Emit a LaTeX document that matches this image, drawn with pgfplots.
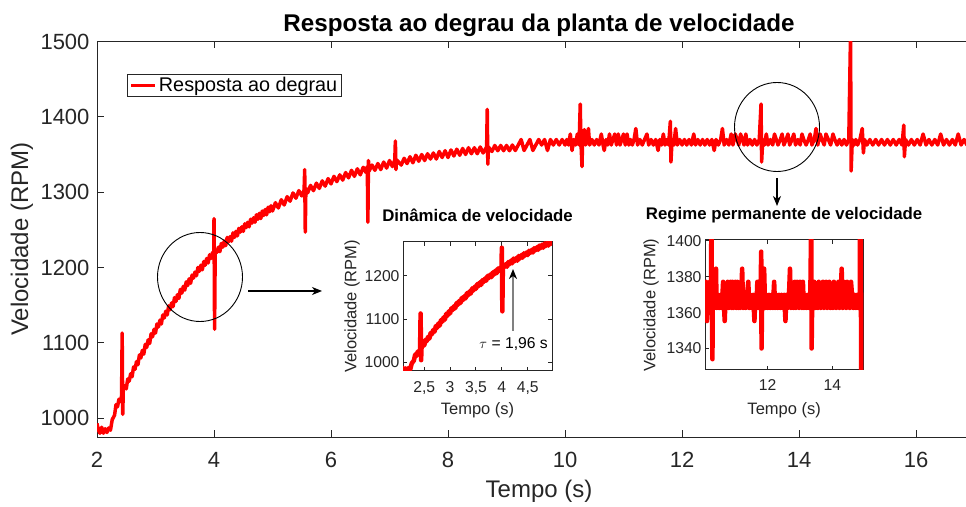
\documentclass[border=0pt]{standalone}
\usepackage{fontspec}
\setmainfont{Liberation Sans}
\usepackage{pgfplots}
\pgfplotsset{compat=1.18}
\usepackage{pgfplotstable}
\usetikzlibrary{arrows.meta}
\definecolor{axgray}{RGB}{38,38,38}
\definecolor{sigred}{RGB}{255,0,0}

% velocidade medida (RPM) x tempo (s)
\pgfplotstableread{
t v
2.00 993
2.02 985
2.05 980
2.08 988
2.11 980
2.14 986
2.17 981
2.20 987
2.23 984
2.26 998
2.300 1004
2.325 1018
2.350 1015
2.375 1025
2.400 1022
2.420 1030
2.430 1113
2.440 1005
2.450 1040
2.475 1043
2.500 1039
2.525 1052
2.550 1049
2.575 1059
2.600 1055
2.625 1068
2.650 1065
2.675 1075
2.700 1071
2.725 1084
2.750 1080
2.775 1090
2.800 1085
2.825 1098
2.850 1094
2.875 1104
2.900 1099
2.925 1112
2.950 1108
2.975 1118
3.000 1113
3.025 1125
3.050 1121
3.075 1130
3.100 1125
3.125 1137
3.150 1133
3.175 1142
3.200 1137
3.225 1149
3.250 1144
3.275 1153
3.300 1148
3.325 1160
3.350 1155
3.375 1164
3.400 1159
3.425 1171
3.450 1166
3.475 1175
3.500 1170
3.525 1181
3.550 1176
3.575 1185
3.600 1179
3.625 1190
3.650 1186
3.675 1194
3.700 1189
3.725 1200
3.750 1195
3.775 1203
3.800 1197
3.825 1208
3.850 1203
3.875 1212
3.900 1206
3.925 1217
3.950 1212
3.975 1220
3.995 1216
4.000 1265
4.010 1118
4.020 1220
4.050 1220
4.075 1227
4.100 1221
4.125 1232
4.150 1227
4.175 1235
4.200 1229
4.225 1240
4.250 1234
4.275 1241
4.300 1235
4.325 1246
4.350 1240
4.375 1248
4.400 1242
4.425 1252
4.450 1247
4.475 1254
4.500 1248
4.525 1258
4.550 1253
4.575 1260
4.600 1254
4.625 1264
4.650 1259
4.675 1266
4.700 1260
4.725 1270
4.750 1264
4.775 1272
4.800 1265
4.825 1275
4.850 1269
4.875 1277
4.900 1270
4.925 1280
4.950 1274
4.975 1282
5.00 1275
5.05 1286
5.10 1279
5.15 1290
5.20 1283
5.25 1294
5.30 1288
5.35 1299
5.40 1292
5.45 1302
5.50 1295
5.54 1303
5.55 1330
5.56 1247
5.57 1305
5.60 1299
5.65 1309
5.70 1302
5.75 1312
5.80 1305
5.85 1315
5.90 1308
5.95 1318
6.00 1311
6.05 1321
6.10 1314
6.15 1323
6.20 1316
6.25 1326
6.30 1319
6.35 1329
6.40 1321
6.45 1331
6.50 1323
6.55 1333
6.60 1326
6.62 1334
6.63 1260
6.64 1342
6.65 1328
6.70 1336
6.75 1329
6.80 1338
6.85 1330
6.90 1340
6.95 1332
7.00 1342
7.05 1334
7.09 1343
7.10 1368
7.11 1330
7.12 1343
7.20 1336
7.25 1345
7.30 1338
7.35 1347
7.40 1339
7.45 1349
7.50 1341
7.55 1350
7.60 1342
7.65 1351
7.70 1344
7.75 1352
7.80 1344
7.85 1354
7.90 1346
7.95 1355
8.00 1346
8.05 1356
8.10 1348
8.15 1357
8.20 1349
8.25 1358
8.30 1350
8.35 1359
8.40 1351
8.45 1359
8.50 1351
8.55 1360
8.60 1352
8.66 1360
8.67 1410
8.68 1337
8.69 1360
8.75 1354
8.80 1362
8.85 1355
8.90 1362
8.95 1355
9.00 1362
9.05 1355
9.10 1362.6
9.15 1355.3
9.20 1362.6
9.25 1369.9
9.30 1355.3
9.35 1362.6
9.40 1369.9
9.45 1355.3
9.50 1362.6
9.55 1369.9
9.60 1362.6
9.65 1369.9
9.70 1355.3
9.75 1369.9
9.80 1362.6
9.85 1369.9
9.90 1362.6
9.95 1369.9
10.00 1362.6
10.03 1369.9
10.06 1362.6
10.09 1377.2
10.12 1355.3
10.15 1369.9
10.18 1362.6
10.21 1377.2
10.24 1362.6
10.26 1417
10.27 1369.9
10.29 1334
10.30 1369.9
10.33 1383
10.35 1362.6
10.38 1369.9
10.40 1384.5
10.42 1362.6
10.46 1369.9
10.50 1362.6
10.54 1369.9
10.58 1362.6
10.62 1377.2
10.65 1362.6
10.67 1355.3
10.70 1369.9
10.73 1362.6
10.76 1377.2
10.79 1362.6
10.82 1369.9
10.85 1377.2
10.88 1362.6
10.91 1377.2
10.94 1362.6
10.97 1369.9
11.00 1377.2
11.03 1362.6
11.06 1377.2
11.09 1362.6
11.12 1369.9
11.15 1362.6
11.18 1369.9
11.21 1384.5
11.24 1362.6
11.28 1369.9
11.32 1362.6
11.36 1369.9
11.40 1377.2
11.43 1362.6
11.47 1369.9
11.51 1362.6
11.55 1369.9
11.59 1355.3
11.62 1369.9
11.65 1362.6
11.68 1377.2
11.71 1362.6
11.74 1369.9
11.77 1362.6
11.80 1394
11.81 1340
11.83 1369.9
11.86 1362.6
11.89 1384.5
11.92 1362.6
11.96 1369.9
12.00 1362.6
12.04 1369.9
12.08 1362.6
12.12 1369.9
12.16 1362.6
12.20 1377.2
12.23 1362.6
12.27 1369.9
12.31 1362.6
12.35 1369.9
12.39 1362.6
12.43 1369.9
12.47 1362.6
12.51 1369.9
12.55 1355.3
12.58 1369.9
12.62 1362.6
12.66 1369.9
12.69 1384.5
12.72 1362.6
12.76 1369.9
12.80 1362.6
12.84 1377.2
12.87 1362.6
12.91 1377.2
12.94 1369.9
12.97 1362.6
13.00 1377.2
13.03 1369.9
13.06 1362.6
13.09 1377.2
13.12 1362.6
13.16 1369.9
13.20 1362.6
13.24 1369.9
13.28 1362.6
13.32 1369.9
13.35 1417
13.36 1340
13.38 1369.9
13.41 1362.6
13.44 1377.2
13.47 1362.6
13.51 1369.9
13.55 1362.6
13.58 1377.2
13.61 1369.9
13.64 1362.6
13.68 1369.9
13.71 1377.2
13.74 1362.6
13.78 1369.9
13.81 1377.2
13.84 1362.6
13.88 1369.9
13.91 1377.2
13.94 1362.6
13.98 1369.9
14.02 1362.6
14.05 1377.2
14.08 1369.9
14.12 1362.6
14.16 1369.9
14.19 1377.2
14.22 1362.6
14.26 1369.9
14.29 1384.5
14.32 1362.6
14.36 1377.2
14.39 1369.9
14.43 1362.6
14.46 1377.2
14.50 1369.9
14.54 1362.6
14.58 1377.2
14.61 1369.9
14.65 1362.6
14.69 1369.9
14.73 1362.6
14.77 1369.9
14.81 1362.6
14.85 1369.9
14.88 1510
14.89 1328
14.91 1369.9
14.94 1362.6
14.97 1369.9
15.00 1362.6
15.04 1369.9
15.08 1384.5
15.10 1352
15.12 1369.9
15.16 1362.6
15.21 1369.9
15.26 1362.6
15.31 1369.9
15.36 1362.6
15.41 1369.9
15.46 1362.6
15.51 1369.9
15.56 1362.6
15.61 1369.9
15.66 1362.6
15.71 1369.9
15.76 1362.6
15.79 1389
15.80 1347
15.82 1369.9
15.87 1362.6
15.92 1369.9
15.97 1362.6
16.02 1369.9
16.07 1362.6
16.12 1377.2
16.17 1362.6
16.22 1369.9
16.27 1362.6
16.32 1369.9
16.37 1362.6
16.42 1377.2
16.47 1362.6
16.52 1369.9
16.57 1362.6
16.62 1369.9
16.67 1362.6
16.72 1377.2
16.77 1362.6
16.82 1369.9
16.87 1362.6
16.92 1369.9
16.97 1362.6
17.02 1369.9
17.07 1362.6
17.12 1369.9
}\resp

\pgfplotsset{
  matstyle/.style={
    scale only axis,
    axis line style={axgray, line width=1pt},
    tick style={axgray, line width=1pt},
    ticklabel style={text=axgray},
    label style={text=axgray},
    /pgf/number format/assume math mode=true,
    /pgf/number format/1000 sep={},
    axis background/.style={fill=white},
  },
}

\begin{document}
\begin{tikzpicture}[x=1pt,y=1pt]

% eixo principal
\begin{axis}[
  matstyle,
  at={(97pt,69pt)}, anchor=south west,
  width=884pt, height=395.5pt,
  xmin=2, xmax=17.11, ymin=975, ymax=1500,
  xtick={2,4,...,16}, ytick={1000,1100,...,1500},
  major tick length=7pt,
  ticklabel style={font=\fontsize{22}{26}\selectfont},
  xticklabel style={yshift=-12pt},
  yticklabel style={xshift=-4pt},
  xlabel={Tempo (s)}, ylabel={Velocidade (RPM)},
  label style={font=\fontsize{24}{28}\selectfont},
  xlabel style={at={(axis description cs:0.5,-0.1365)}, anchor=center},
  ylabel style={at={(axis description cs:-0.085,0.5)}, anchor=center},
  title={Resposta ao degrau da planta de velocidade},
  title style={font=\bfseries\fontsize{24.2}{28}\selectfont, at={(axis description cs:0.5,1)}, anchor=base, yshift=3.8pt},
  legend style={at={(0.034,0.918)}, anchor=north west, draw=axgray, line width=0.8pt,
    font=\fontsize{19.8}{23}\selectfont, inner xsep=2pt, inner ysep=1pt},
  legend image code/.code={\draw[#1] (0pt,0pt) -- (24pt,0pt);},
]
\addplot[sigred, line width=3.5pt, line join=round] table[x=t, y=v] {\resp};
\addlegendentry{Resposta ao degrau}
\end{axis}

% detalhe: dinamica
\begin{axis}[
  matstyle,
  at={(403pt,135pt)}, anchor=south west,
  width=149pt, height=129.3pt,
  xmin=2.09, xmax=4.97, ymin=980, ymax=1279,
  xtick={2.5,3,3.5,4,4.5}, xticklabels={{2,5},3,{3,5},4,{4,5}},
  ytick={1000,1100,1200},
  major tick length=4pt,
  ticklabel style={font=\fontsize{15.7}{18}\selectfont},
  xticklabel style={yshift=-7pt},
  xlabel={Tempo (s)}, ylabel={Velocidade (RPM)},
  label style={font=\fontsize{16.5}{19}\selectfont},
  xlabel style={at={(axis description cs:0.5,-0.30)}, anchor=center},
  ylabel style={at={(axis description cs:-0.342,0.5)}, anchor=center},
  title={Dinâmica de velocidade},
  title style={font=\bfseries\fontsize{16.8}{20}\selectfont, at={(axis description cs:0.5,1)}, anchor=base, yshift=14pt},
]
\addplot[sigred, line width=4.5pt, line join=round] table[x=t, y=v] {\resp};
\end{axis}

% detalhe: regime permanente
\begin{axis}[
  matstyle,
  at={(705pt,136pt)}, anchor=south west,
  width=158.3pt, height=130pt,
  xmin=10.06, xmax=14.96, ymin=1328, ymax=1400.5,
  xtick={12,14}, ytick={1340,1360,1380,1400},
  major tick length=4pt,
  ticklabel style={font=\fontsize{15.7}{18}\selectfont},
  xticklabel style={yshift=-6pt},
  xlabel={Tempo (s)}, ylabel={Velocidade (RPM)},
  label style={font=\fontsize{16.5}{19}\selectfont},
  xlabel style={at={(axis description cs:0.5,-0.308)}, anchor=center},
  ylabel style={at={(axis description cs:-0.34,0.5)}, anchor=center},
  title={Regime permanente de velocidade},
  title style={font=\bfseries\fontsize{16.8}{20}\selectfont, at={(axis description cs:0.5,1)}, anchor=base, yshift=14pt},
]
\addplot[sigred, line width=4.5pt, line join=round] table[x=t, y=v] {\resp};
\end{axis}

% anotacoes
\draw[black, line width=0.9pt] (200,229) ellipse [x radius=42.5, y radius=44.5];
\draw[black, line width=0.9pt] (777,379) ellipse [x radius=42.5, y radius=44.5];
\draw[black, line width=1.1pt, -{Stealth[length=10pt, width=8pt, inset=3pt]}] (248,215) -- (322,215);
\draw[black, line width=1.1pt, -{Stealth[length=10pt, width=8pt, inset=3pt]}] (777,328) -- (777,300);
\draw[gray, line width=1.6pt, -{Stealth[black, length=10pt, width=8pt, inset=3pt]}] (513,175) -- (513,237);
\node[anchor=east, text=black, font=\fontsize{15.7}{18}\selectfont, inner sep=0pt] at (548,162) {$\tau$ = 1,96 s};

\pgfresetboundingbox
\useasboundingbox (0,0) rectangle (966,506);
\end{tikzpicture}
\end{document}
